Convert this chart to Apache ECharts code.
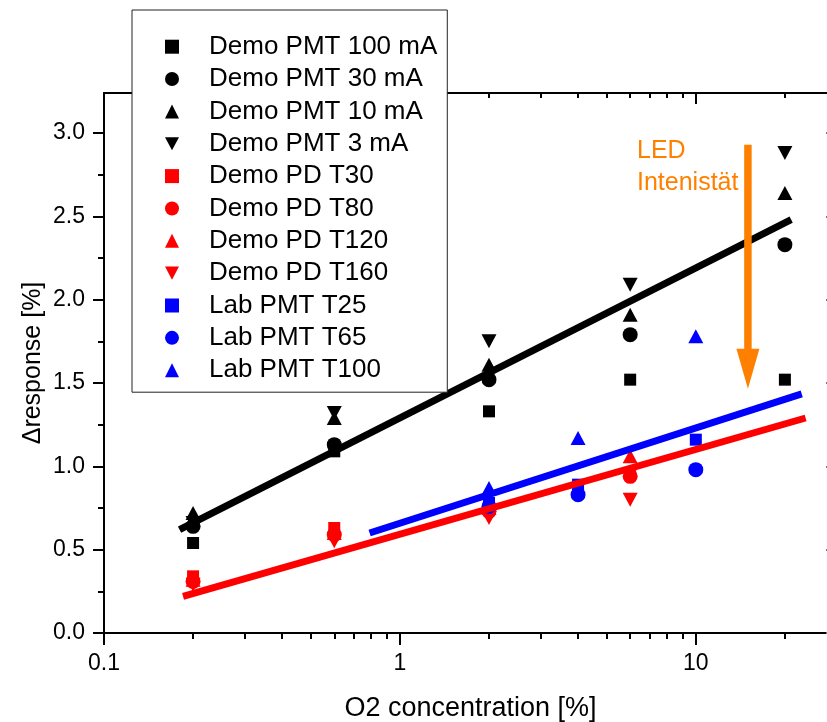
<!DOCTYPE html>
<html>
<head>
<meta charset="utf-8">
<script src="https://cdn.jsdelivr.net/npm/echarts@6/dist/echarts.min.js"></script>
<style>
html,body{margin:0;padding:0;background:#fff;}
#chart{width:827px;height:722px;}
</style>
</head>
<body>
<div id="chart"></div>
<script>
// ---- data ----
const demoX = [0.2, 0.6, 2, 6, 20];
const pmt100 = [0.54, 1.09, 1.33, 1.52, 1.52];
const pmt30  = [0.64, 1.13, 1.52, 1.79, 2.33];
const pmt10  = [0.72, 1.29, 1.61, 1.91, 2.64];
const pmt3   = [0.66, 1.32, 1.75, 2.09, 2.88];

const pdX = [0.2, 0.6, 2, 6];
const pdT30  = [0.34, 0.63, 0.74, 0.96];
const pdT80  = [0.31, 0.59, 0.73, 0.94];
const pdT120 = [0.32, 0.60, 0.75, 1.06];
const pdT160 = [0.29, 0.55, 0.69, 0.80];

const labX = [2, 4, 10];
const labT25  = [0.78, 0.89, 1.16];
const labT65  = [0.76, 0.83, 0.98];
const labT100 = [0.87, 1.17, 1.78];

// fit lines (end points)
const blackFitX = [0.18, 21];   const blackFitY = [0.62, 2.48];
const redFitX   = [0.185, 23.5]; const redFitY  = [0.22, 1.29];
const blueFitX  = [0.79, 22.8];  const blueFitY = [0.60, 1.435];

// LED arrow (x, shaft top, shaft bottom, head centre)
const arrowX = 15;
const arrowShaftY = [2.93, 1.70];
const arrowHeadY = 1.585;

// ticks
const xMajor = [0.1, 1, 10];
const xMinor = [0.2,0.3,0.4,0.5,0.6,0.7,0.8,0.9,2,3,4,5,6,7,8,9,20];
const yMajor = [0, 0.5, 1.0, 1.5, 2.0, 2.5, 3.0];
const yMinor = [0.25, 0.75, 1.25, 1.75, 2.25, 2.75];

const legendNames = ['Demo PMT 100 mA','Demo PMT 30 mA','Demo PMT 10 mA','Demo PMT 3 mA',
  'Demo PD T30','Demo PD T80','Demo PD T120','Demo PD T160',
  'Lab PMT T25','Lab PMT T65','Lab PMT T100'];

const FONT = 'Liberation Sans, Arial, sans-serif';
const DOWN_TRI = 'path://M0,0L15,0L7.5,14Z';
const zip = (xs, ys) => xs.map((x, i) => [x, ys[i]]);

const chart = echarts.init(document.getElementById('chart'), null, {renderer: 'canvas'});

function scatter(name, xs, ys, color, symbol, size) {
  return {
    name, type: 'scatter', data: zip(xs, ys),
    symbol, symbolSize: size,
    itemStyle: {color, opacity: 1}, z: 2, silent: true
  };
}
function fit(xs, ys, color) {
  return {
    type: 'line', data: zip(xs, ys), symbol: 'none', silent: true,
    lineStyle: {color, width: 7, cap: 'butt'}, z: 3
  };
}

const black = '#000000', red = '#ff0000', blue = '#0000ff', orange = '#ff8000';
const axisCommon = {min: 0.1, max: 30, type: 'log', logBase: 10};

const option = {
  animation: false,
  grid: {left: 104, right: -10, top: 93, bottom: 89, containLabel: false, outerBoundsMode: 'none'},
  xAxis: [
    Object.assign({}, axisCommon, {
      position: 'bottom',
      axisLine: {onZero: false, lineStyle: {color: black, width: 2}},
      axisTick: {customValues: xMajor, length: 12, lineStyle: {color: black, width: 2}},
      axisLabel: {customValues: xMajor, fontSize: 23, fontFamily: FONT, color: black, margin: 19,
        formatter: v => String(+(+v).toPrecision(3))},
      splitLine: {show: false}, minorTick: {show: false},
      name: 'O2 concentration [%]', nameLocation: 'middle', nameGap: 62, nameMoveOverlap: false,
      nameTextStyle: {fontSize: 27, fontFamily: FONT, color: black}
    }),
    Object.assign({}, axisCommon, {
      position: 'bottom',
      axisLine: {show: false, onZero: false},
      axisTick: {customValues: xMinor, length: 6, lineStyle: {color: black, width: 2}},
      axisLabel: {show: false}, splitLine: {show: false}
    }),
    Object.assign({}, axisCommon, {
      position: 'top',
      axisLine: {onZero: false, lineStyle: {color: black, width: 2}},
      axisTick: {customValues: xMajor, inside: true, length: 11, lineStyle: {color: black, width: 2}},
      axisLabel: {show: false}, splitLine: {show: false}
    }),
    Object.assign({}, axisCommon, {
      position: 'top',
      axisLine: {show: false, onZero: false},
      axisTick: {customValues: xMinor, inside: true, length: 5, lineStyle: {color: black, width: 2}},
      axisLabel: {show: false}, splitLine: {show: false}
    })
  ],
  yAxis: [
    {
      type: 'value', min: 0, max: 3.24, position: 'left',
      axisLine: {show: true, onZero: false, lineStyle: {color: black, width: 2}},
      axisTick: {show: true, customValues: yMajor, length: 11, lineStyle: {color: black, width: 2}},
      axisLabel: {customValues: yMajor, fontSize: 23, fontFamily: FONT, color: black, margin: 19,
        formatter: v => (+v).toFixed(1)},
      splitLine: {show: false},
      name: 'Δresponse [%]', nameLocation: 'middle', nameGap: 58, nameRotate: 90, nameMoveOverlap: false,
      nameTextStyle: {fontSize: 25, fontFamily: FONT, color: black}
    },
    {
      type: 'value', min: 0, max: 3.24, position: 'left',
      axisLine: {show: false, onZero: false},
      axisTick: {show: true, customValues: yMinor, length: 6, lineStyle: {color: black, width: 2}},
      axisLabel: {show: false}, splitLine: {show: false}
    },
    {
      type: 'value', min: 0, max: 3.24, position: 'right',
      axisLine: {show: true, onZero: false, lineStyle: {color: black, width: 2}},
      axisTick: {show: true, customValues: yMajor, inside: true, length: 11, lineStyle: {color: '#777', width: 2}},
      axisLabel: {show: false}, splitLine: {show: false}
    },
    {
      type: 'value', min: 0, max: 3.24, position: 'right',
      axisLine: {show: false, onZero: false},
      axisTick: {show: true, customValues: yMinor, inside: true, length: 6, lineStyle: {color: black, width: 2}},
      axisLabel: {show: false}, splitLine: {show: false}
    }
  ],
  legend: {
    orient: 'vertical', left: 132, top: 10,
    padding: [23.7, 10, 9, 33],
    itemWidth: 14, itemHeight: 14, itemGap: 6.35,
    backgroundColor: '#ffffff', borderColor: '#222', borderWidth: 1,
    textStyle: {fontSize: 26, lineHeight: 26, fontFamily: FONT, color: black, padding: [0, 0, 0, 25]},
    selectedMode: false, z: 10,
    data: legendNames
  },
  graphic: [{
    type: 'text', x: 637, y: 167, z: 10,
    style: {text: 'LED\nIntenistät', fill: orange, fontSize: 25, fontFamily: FONT,
      lineHeight: 32, verticalAlign: 'middle', align: 'left'}
  }],
  series: [
    scatter(legendNames[0], demoX, pmt100, black, 'rect', 12),
    scatter(legendNames[1], demoX, pmt30, black, 'circle', 15),
    scatter(legendNames[2], demoX, pmt10, black, 'triangle', [15, 14]),
    scatter(legendNames[3], demoX, pmt3, black, DOWN_TRI, [15, 14]),
    scatter(legendNames[4], pdX, pdT30, red, 'rect', 12),
    scatter(legendNames[5], pdX, pdT80, red, 'circle', 15),
    scatter(legendNames[6], pdX, pdT120, red, 'triangle', [15, 14]),
    scatter(legendNames[7], pdX, pdT160, red, DOWN_TRI, [15, 14]),
    scatter(legendNames[8], labX, labT25, blue, 'rect', 12),
    scatter(legendNames[9], labX, labT65, blue, 'circle', 15),
    scatter(legendNames[10], labX, labT100, blue, 'triangle', [15, 14]),
    fit(blackFitX, blackFitY, black),
    fit(redFitX, redFitY, red),
    fit(blueFitX, blueFitY, blue),
    {
      type: 'line', data: [[arrowX, arrowShaftY[0]], [arrowX, arrowShaftY[1]]],
      symbol: 'none', silent: true, lineStyle: {color: orange, width: 7.5, cap: 'butt'}, z: 4
    },
    {
      type: 'scatter', data: [[arrowX, arrowHeadY]], symbol: 'path://M0,0L23,0L11.5,40Z', symbolSize: [23, 40],
      itemStyle: {color: orange, opacity: 1}, silent: true, z: 4
    }
  ]
};
chart.setOption(option);
</script>
</body>
</html>
